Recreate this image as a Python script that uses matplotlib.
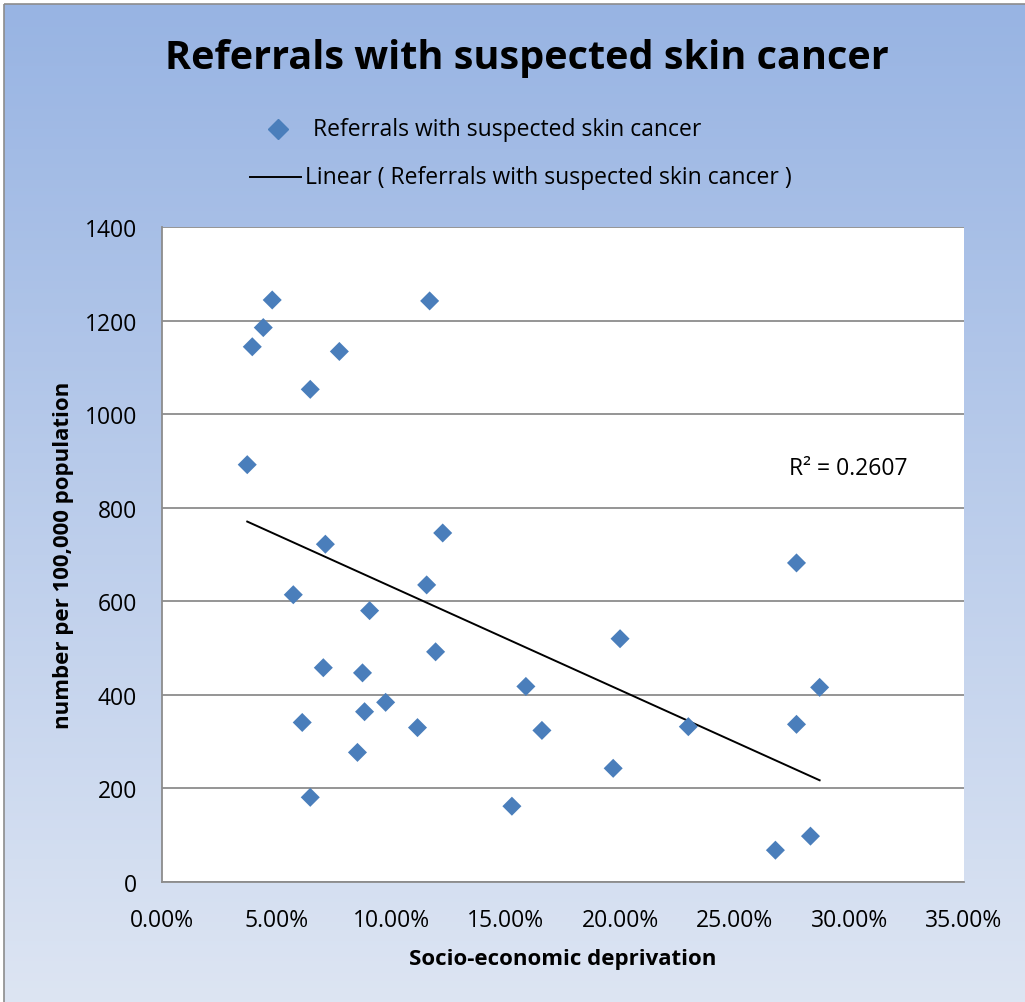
import numpy as np
import matplotlib
matplotlib.use("Agg")
import matplotlib.pyplot as plt
from matplotlib.lines import Line2D
from matplotlib.patches import Rectangle
from matplotlib.colors import LinearSegmentedColormap

# ---- data ----
deprivation = [3.72, 3.94, 4.42, 4.81, 6.47, 7.74, 11.68, 5.73, 7.13, 9.06,
               12.25, 11.55, 7.04, 8.75, 11.94, 6.12, 8.84, 9.76, 11.15, 8.53,
               6.47, 15.27, 15.88, 16.58, 19.99, 19.69, 22.97, 27.69, 27.69,
               28.70, 28.30, 26.77]  # percent
referrals = [892, 1144, 1185, 1244, 1053, 1134, 1242, 614, 722, 580,
             746, 635, 458, 447, 492, 341, 364, 384, 330, 277,
             181, 162, 418, 324, 520, 243, 332, 682, 337,
             416, 98, 68]
x_ticks = [0, 5, 10, 15, 20, 25, 30, 35]
x_tick_labels = ["0.00%", "5.00%", "10.00%", "15.00%", "20.00%", "25.00%", "30.00%", "35.00%"]
y_ticks = [0, 200, 400, 600, 800, 1000, 1200, 1400]

title = "Referrals with suspected skin cancer"
series_name = "Referrals with suspected skin cancer"
trend_name = "Linear ( Referrals with suspected skin cancer )"
r2_label = "R² = 0.2607"

FONT = ["Open Sans", "DejaVu Sans"]
plt.rcParams['font.family'] = FONT

W, H = 1025, 1003
fig = plt.figure(figsize=(W / 100, H / 100), dpi=100)
fig.patch.set_facecolor("white")

# gradient background (chart area)
bg = fig.add_axes([0, 0, 1, 1], zorder=-10)
bg.set_xlim(0, W)
bg.set_ylim(H, 0)
bg.axis("off")
cmap = LinearSegmentedColormap.from_list("bg", ["#98B4E3", "#DDE5F3"])
grad = np.linspace(0, 1, 256).reshape(-1, 1)
bg.imshow(grad, cmap=cmap, extent=[4, W + 2, H + 2, 5], aspect="auto", zorder=0)
bg.add_patch(Rectangle((4, 5), W, H, fill=False, edgecolor="#8C8C8C", lw=1.2, zorder=1))

# plot area
L, R, T, B = 162, 964, 228, 883
ax = fig.add_axes([L / W, 1 - B / H, (R - L) / W, (B - T) / H])
ax.set_facecolor("white")
ax.set_xlim(0, 35)
ax.set_ylim(0, 1400)
ax.set_xticks(x_ticks)
ax.set_xticklabels(x_tick_labels)
ax.set_yticks(y_ticks)
ax.tick_params(length=0, labelsize=16.5)
ax.tick_params(axis="y", pad=18)
ax.tick_params(axis="x", pad=19)
ax.grid(axis="y", color="#8C8C8C", lw=1.3)
ax.set_axisbelow(True)
for s in ["top", "right"]:
    ax.spines[s].set_visible(False)
for s in ["left", "bottom"]:
    ax.spines[s].set_color("#8C8C8C")
    ax.spines[s].set_linewidth(1.3)

x = np.array(deprivation)
y = np.array(referrals)
ax.scatter(x, y, marker="D", s=9.7 ** 2, color="#4A7EBB", edgecolors="none", zorder=3)
m, c = np.polyfit(x, y, 1)
xs = np.array([x.min(), x.max()])
ax.plot(xs, m * xs + c, color="black", lw=1.4, zorder=2)
ax.text(27.35, 885, r2_label, fontsize=16.5, ha="left", va="center")

ax.set_xlabel("Socio-economic deprivation", fontsize=16, fontweight="bold", labelpad=11)
ax.set_ylabel("number per 100,000 population", fontsize=16, fontweight="bold", labelpad=8)

# title
fig.text(527 / W, 1 - 58 / H, title, fontsize=28.5, fontweight="bold", ha="center", va="center")

# legend (manual)
bg.add_line(Line2D([278], [130], marker="D", markersize=9.7, color="#4A7EBB", ls="none"))
bg.text(313, 130, series_name, fontsize=16.5, va="center", ha="left")
bg.add_line(Line2D([250, 301], [178, 178], color="black", lw=1.4))
bg.text(305, 178, trend_name, fontsize=16.5, va="center", ha="left")

fig.savefig("out.png", dpi=100)
